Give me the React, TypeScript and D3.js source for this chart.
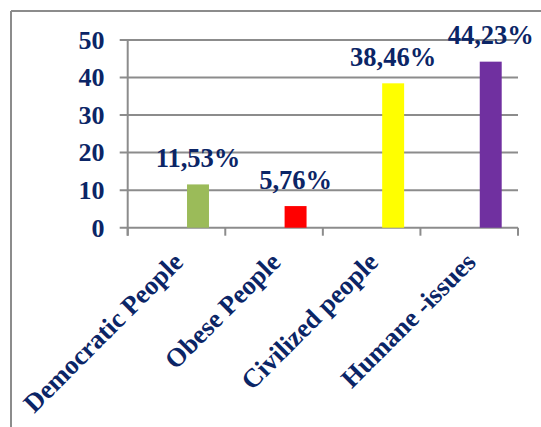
import React from "react";
import * as d3 from "d3";

const categories = ["Democratic People", "Obese People", "Civilized people", "Humane -issues"];
const values = [11.53, 5.76, 38.46, 44.23];
const valueLabels = ["11,53%", "5,76%", "38,46%", "44,23%"];
const barColors = ["#9bbb59", "#ff0000", "#ffff00", "#7030a0"];
const yTicks = [0, 10, 20, 30, 40, 50];

const W = 541;
const H = 427;
const plotLeft = 127.7;
const plotRight = 518;
const plotTop = 40;
const plotBottom = 227.7;
const textColor = "#0b2566";
const gridColor = "#8c8c8c";
const font = "'Liberation Serif', 'Times New Roman', Tinos, serif";

export default function App() {
  const x = d3.scaleBand<string>().domain(categories).range([plotLeft, plotRight]).padding(0);
  const y = d3.scaleLinear().domain([0, 50]).range([plotBottom, plotTop]);
  const bw = x.bandwidth();
  const tickXs = categories.map((c) => (x(c) as number)).concat([plotRight]);

  return (
    <svg width={W} height={H} style={{ position: "absolute", left: 0, top: 0, background: "#fff" }}>
      {/* outer frame */}
      <line x1={11} y1={11} x2={W} y2={11} stroke={gridColor} strokeWidth={2} />
      <line x1={11} y1={11} x2={11} y2={H} stroke={gridColor} strokeWidth={2} />

      {/* gridlines & y ticks */}
      {yTicks.map((t) => (
        <g key={t}>
          <line x1={plotLeft - 8} x2={plotRight} y1={y(t)} y2={y(t)} stroke={gridColor} strokeWidth={2} />
          <text
            x={104.5}
            y={y(t)}
            dy="0.34em"
            textAnchor="end"
            style={{ fontFamily: font, fontWeight: "bold", fontSize: 26 }}
            fill={textColor}
          >
            {t}
          </text>
        </g>
      ))}

      {/* y axis */}
      <line x1={plotLeft} x2={plotLeft} y1={plotTop} y2={plotBottom + 8} stroke={gridColor} strokeWidth={2} />
      {/* x ticks */}
      {tickXs.map((tx, i) => (
        <line key={i} x1={tx} x2={tx} y1={plotBottom} y2={plotBottom + 8} stroke={gridColor} strokeWidth={2} />
      ))}

      {/* bars */}
      {categories.map((c, i) => {
        const bx = (x(c) as number) + bw * 0.608;
        const w = bw * 0.225;
        return (
          <g key={c}>
            <rect x={bx} y={y(values[i])} width={w} height={plotBottom - y(values[i])} fill={barColors[i]} />
            <text
              x={bx + w / 2}
              y={y(values[i]) - 17.5}
              textAnchor="middle"
              style={{ fontFamily: font, fontWeight: "bold", fontSize: 26.5 }}
              fill={textColor}
            >
              {valueLabels[i]}
            </text>
          </g>
        );
      })}

      {/* category labels */}
      {categories.map((c) => {
        const cx = (x(c) as number) + bw / 2 + 8;
        const cy = plotBottom + 36;
        return (
          <text
            key={c}
            transform={`translate(${cx},${cy}) rotate(-45)`}
            textAnchor="end"
            style={{ fontFamily: font, fontWeight: "bold", fontSize: 26.5 }}
            fill={textColor}
          >
            {c}
          </text>
        );
      })}
    </svg>
  );
}
